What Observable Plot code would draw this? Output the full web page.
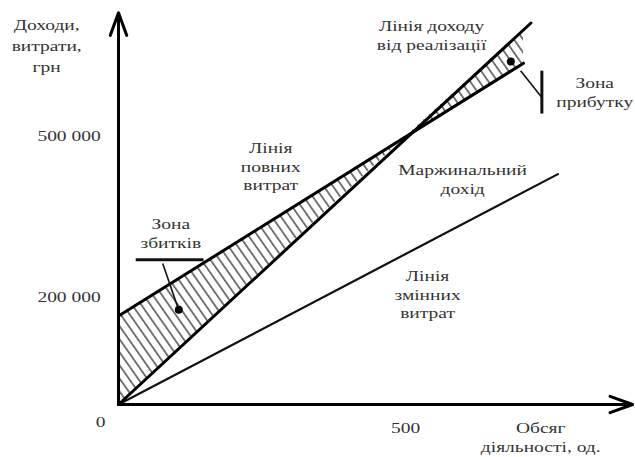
<!DOCTYPE html>
<html>
<head>
<meta charset="utf-8">
<script src="https://cdn.jsdelivr.net/npm/d3@7"></script>
<script src="https://cdn.jsdelivr.net/npm/@observablehq/plot@0.6"></script>
<style>
  html, body { margin: 0; padding: 0; background: #fff; }
  #chart svg { display: block; }
</style>
</head>
<body>
<div id="chart"></div>
<script>
// --- data (volume in units, money in UAH) ---
const revenueQ = [0, 718];          // revenue line
const revenueV = [0, 712000];
const totalCostQ = [0, 705];        // total cost line
const totalCostV = [165000, 637000];
const varCostQ = [0, 765];          // variable cost line
const varCostV = [0, 430000];

const lossQ = [0, 500];             // loss zone (between cost and revenue)
const lossLow = [0, 500000];
const lossHigh = [165000, 500000];
const profitQ = [500, 705];         // profit zone
const profitLow = [500000, 637000];
const profitHigh = [500000, 699000];

const dotQ = [105, 683];            // zone markers
const dotV = [177000, 640000];

// leader / bracket segments of the zone callouts
const segQ1 = [30, 77, 737, 700];
const segV1 = [270000, 263000, 623000, 623000];
const segQ2 = [148, 103, 737, 737];
const segV2 = [270000, 182000, 543000, 573000];

// axes (arrows)
const axisQ1 = [0, 0], axisV1 = [0, 0];
const axisQ2 = [0, 895], axisV2 = [731000, 0];

// tick labels
const yTickValues = [500000, 200000];
const yTickLabels = ["500 000", "200 000"];
const xTickValues = [0, 500];
const xTickLabels = ["0", "500"];

// annotation texts
const labelText = [
  "Лінія доходу\nвід реалізації",
  "Зона\nприбутку",
  "Лінія\nповних\nвитрат",
  "Маржинальний\nдохід",
  "Лінія\nзмінних\nвитрат",
  "Зона\nзбитків",
  "Обсяг\nдіяльності, од."
];
const labelQ = [545, 829, 265, 599, 538, 91, 735];
const labelV = [691000, 584000, 446000, 421700, 207000, 321000, -60000];
const titleText = ["Доходи,\nвитрати,\nгрн"];
const titleQ = [-125];
const titleV = [672000];

const font = "'Liberation Serif', 'Times New Roman', serif";

const chart = Plot.plot({
  width: 635,
  height: 457,
  marginLeft: 118,
  marginRight: 0,
  marginTop: 0,
  marginBottom: 53,
  x: {domain: [0, 900], axis: null},
  y: {domain: [0, 754000], axis: null},
  style: {background: "#fff", fontFamily: font},
  marks: [
    Plot.areaY(lossQ, {x: lossQ, y1: lossLow, y2: lossHigh, fill: "url(#hatch)"}),
    Plot.areaY(profitQ, {x: profitQ, y1: profitLow, y2: profitHigh, fill: "url(#hatch)"}),
    Plot.line(varCostQ, {x: varCostQ, y: varCostV, stroke: "#111", strokeWidth: 2.2}),
    Plot.line(totalCostQ, {x: totalCostQ, y: totalCostV, stroke: "#000", strokeWidth: 3}),
    Plot.line(revenueQ, {x: revenueQ, y: revenueV, stroke: "#000", strokeWidth: 3}),
    Plot.link(segQ1, {x1: segQ1, y1: segV1, x2: segQ2, y2: segV2, stroke: "#111",
      strokeWidth: (d, i) => (i === 0 || i === 2 ? 3 : 1.6)}),
    Plot.dot(dotQ, {x: dotQ, y: dotV, r: 4, fill: "#000", stroke: "none"}),
    Plot.arrow(axisQ1, {x1: axisQ1, y1: axisV1, x2: axisQ2, y2: axisV2, stroke: "#000",
      strokeWidth: 3, headLength: 12, headAngle: 40}),
    Plot.text(yTickValues, {x: () => -31, y: yTickValues, text: yTickLabels,
      textAnchor: "end", fontSize: 15, fill: "#333"}),
    Plot.text(xTickValues, {x: (d, i) => (i === 0 ? -31 : 500), y: (d, i) => (i === 0 ? -33600 : -45000),
      text: xTickLabels, fontSize: 15, fill: "#333"}),
    Plot.text(labelText, {x: labelQ, y: labelV, text: labelText, fontSize: 15,
      lineHeight: 1.25, fill: "#333"}),
    Plot.text(titleText, {x: titleQ, y: titleV, text: titleText, fontSize: 15,
      lineHeight: 1.4, fill: "#333"})
  ]
});

// hatch pattern
const ns = "http://www.w3.org/2000/svg";
const defs = document.createElementNS(ns, "defs");
defs.innerHTML = `<pattern id="hatch" patternUnits="userSpaceOnUse" width="7.5" height="7.5" patternTransform="rotate(-35)">
  <rect width="7.5" height="7.5" fill="#fff"/>
  <line x1="0" y1="0" x2="0" y2="7.5" stroke="#666" stroke-width="3.5"/>
</pattern>`;
chart.insertBefore(defs, chart.firstChild);

// the scanned original's lettering is horizontally wide: stretch text around its anchor
chart.querySelectorAll("text").forEach(t => {
  const tr = t.getAttribute("transform");
  if (tr && tr.includes("translate")) t.setAttribute("transform", tr + " scale(1.3,1)");
});

document.getElementById("chart").appendChild(chart);
</script>
</body>
</html>
